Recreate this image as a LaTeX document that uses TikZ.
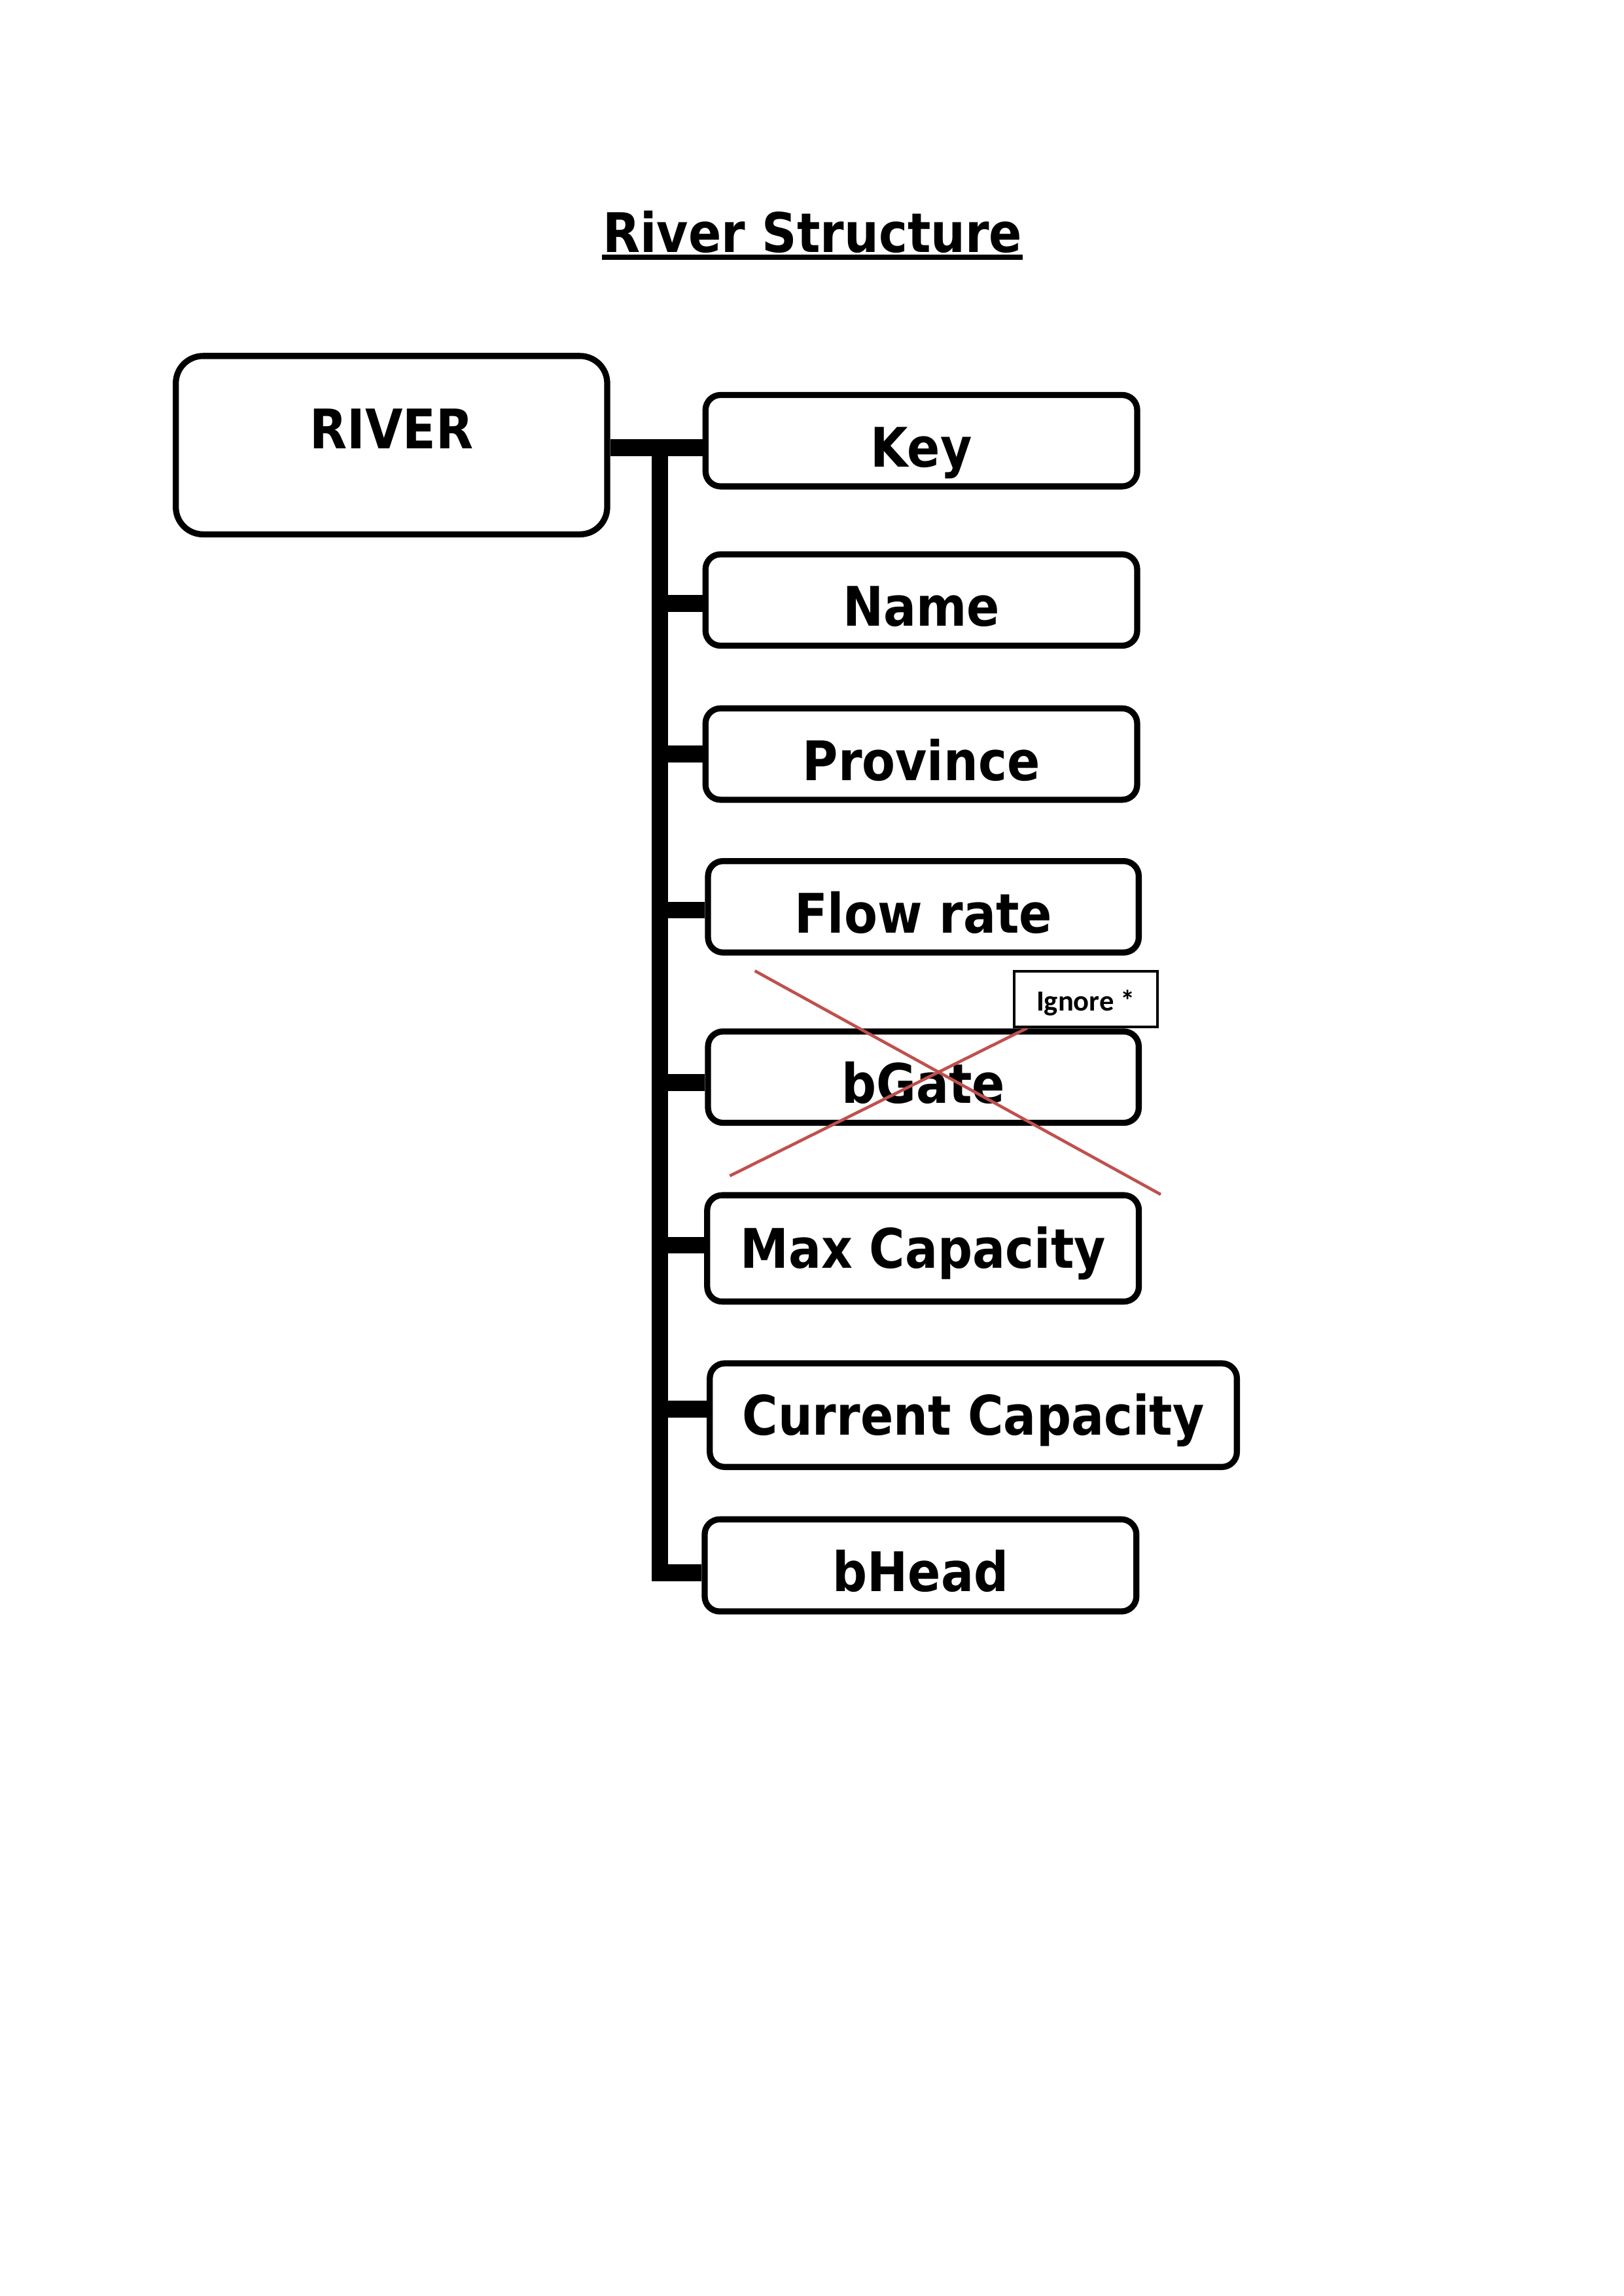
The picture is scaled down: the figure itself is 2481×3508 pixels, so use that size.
\documentclass[tikz,border=0pt]{standalone}
\usepackage{fontspec}
\setmainfont{DejaVu Sans}
\newfontfamily\boxfont{DejaVu Sans}[FakeStretch=0.89]
\newfontfamily\calibfont{Carlito}
\definecolor{xred}{RGB}{192,80,77}
\begin{document}
\begin{tikzpicture}[x=0.23994pt,y=-0.23994pt,
  box/.style={draw=black, line width=2.23pt, rounded corners=5.5pt, fill=white,
    font=\boxfont\bfseries\fontsize{20}{24}\selectfont, text height=19.5pt, text depth=0.2pt,
    inner sep=1pt, minimum width=158.3pt, minimum height=33.5pt},
  tallbox/.style={box, text height=15pt, text depth=0.5pt},
  bigbox/.style={box, rounded corners=10pt, minimum width=158.2pt, minimum height=65.4pt,
    text height=14pt, text depth=11.6pt},
  conn/.style={draw=black, line width=6.17pt, line join=miter},
  xline/.style={draw=xred, line width=1.1pt},
  notebox/.style={draw=black, line width=0.96pt, fill=white, inner sep=1pt,
    minimum width=52.4pt, minimum height=20.25pt, text height=9pt, text depth=0.2pt,
    font=\calibfont\bfseries\fontsize{10.7}{13}\selectfont}
]
\useasboundingbox (0,0) rectangle (2481,3508);
\fill[white] (0,0) rectangle (2481,3508);

% title
\node[inner sep=0pt, anchor=base, font=\boxfont\bfseries\fontsize{20}{24}\selectfont] (title) at (1241.7,385) {River Structure};
\draw[line width=1.92pt] ([yshift=-2pt]title.base west) -- ([yshift=-2pt]title.base east);

% boxes
\node[bigbox] (river) at (598.35,680.15) {RIVER};
\node[box] (key) at (1408.15,673.3) {Key};
\node[box] (name) at (1408.1,916.7) {Name};
\node[box] (province) at (1408.1,1152.1) {Province};
\node[box, minimum width=157.95pt] (flow) at (1411.2,1385.45) {Flow rate};
\node[box, minimum width=157.95pt] (bgate) at (1411.2,1645.7) {bGate};
\node[tallbox, minimum height=39pt] (maxcap) at (1410.65,1907.35) {Max Capacity};
\node[tallbox, minimum width=193.3pt, minimum height=38pt] (curcap) at (1487.55,2162.15) {Current Capacity};
\node[box, minimum height=33.76pt] (bhead) at (1406.85,2391.7) {bHead};

% connectors
\coordinate (barx) at (1008.5,0);
\draw[conn] ([yshift=-2.52pt]key.west) -- ([yshift=-2.52pt]key.west -| river.east);
\draw[conn] ([yshift=-2.52pt]key.west -| barx) -- ([yshift=-2.78pt]bhead.west -| barx) -- ([yshift=-2.78pt]bhead.west);
\draw[conn] ([yshift=-1.2pt]name.west -| barx) -- ([yshift=-1.2pt]name.west);
\draw[conn] (province.west -| barx) -- (province.west);
\draw[conn] ([yshift=-1.2pt]flow.west -| barx) -- ([yshift=-1.2pt]flow.west);
\draw[conn] ([yshift=-1.92pt]bgate.west -| barx) -- ([yshift=-1.92pt]bgate.west);
\draw[conn] ([yshift=1.15pt]maxcap.west -| barx) -- ([yshift=1.15pt]maxcap.west);
\draw[conn] ([yshift=2.23pt]curcap.west -| barx) -- ([yshift=2.23pt]curcap.west);

% crossing out
\coordinate (xa1) at (1153.6,1483.3);
\coordinate (xa2) at (1774,1825);
\coordinate (xb1) at (1115.3,1796.6);
\coordinate (xb2) at (1570,1570.7);
\draw[xline] (xa1) -- (xa2);
\draw[xline] (xb1) -- (xb2);

\node[notebox] (ignore) at (1659.5,1526.5) {Ignore *};
\end{tikzpicture}
\end{document}
